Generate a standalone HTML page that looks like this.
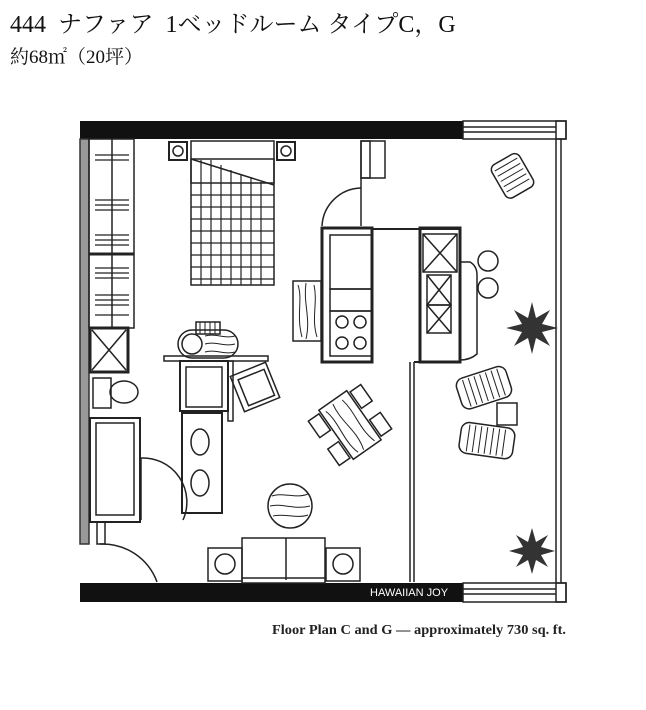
<!DOCTYPE html>
<html><head><meta charset="utf-8"><style>
html,body{margin:0;padding:0;background:#fff;width:646px;height:710px;overflow:hidden}
.t1{position:absolute;left:10px;top:4px;font:24px "Liberation Serif","Noto Serif CJK SC",serif;color:#111;white-space:nowrap}
.t2{position:absolute;left:10px;top:42px;font:19px "Liberation Serif","Noto Serif CJK SC",serif;color:#111;white-space:nowrap}
svg{position:absolute;left:0;top:0}
</style></head><body>
<div class="t1">444&nbsp; ナファア&nbsp; 1ベッドルーム タイプC，G</div>
<div class="t2">約68㎡（20坪）</div>
<svg width="646" height="710" viewBox="0 0 646 710" fill="none" stroke="#222" stroke-width="1.5">
<!-- walls -->
<rect x="80" y="121" width="383" height="18" fill="#111" stroke="none"/>
<rect x="80" y="583" width="383" height="19" fill="#111" stroke="none"/>
<rect x="463" y="121" width="103" height="18" fill="#fff"/>
<line x1="463" y1="127" x2="556" y2="127"/><line x1="463" y1="132" x2="556" y2="132"/>
<rect x="556" y="121" width="10" height="18"/>
<rect x="463" y="583" width="103" height="19" fill="#fff"/>
<line x1="463" y1="589" x2="556" y2="589"/><line x1="463" y1="594" x2="556" y2="594"/>
<rect x="556" y="583" width="10" height="19"/>
<line x1="556" y1="139" x2="556" y2="583"/><line x1="561" y1="139" x2="561" y2="583"/>
<rect x="80" y="139" width="9" height="405" fill="#999" stroke="#333"/>
<text x="370" y="596" font-family="Liberation Sans" font-size="11" fill="#fff" stroke="none">HAWAIIAN JOY</text>
<!-- closet -->
<rect x="89" y="139" width="45" height="189"/>
<line x1="112" y1="139" x2="112" y2="328"/>
<line x1="89" y1="254" x2="134" y2="254" stroke-width="3"/>
<g stroke-width="1.2">
<path d="M95 155h34M95 160h34M95 200h34M95 205h34M95 210h34M95 235h34M95 240h34M95 245h34M95 268h34M95 273h34M95 278h34M95 295h34M95 300h34M95 305h34M95 315h34"/>
</g>
<rect x="90" y="328" width="38" height="44" stroke-width="3"/>
<path d="M92 330l34 40M126 330l-34 40"/>
<rect x="93" y="378" width="18" height="30"/><ellipse cx="124" cy="392" rx="14" ry="11"/>
<rect x="90" y="418" width="50" height="104" stroke-width="2"/><rect x="96" y="423" width="38" height="92"/>
<path d="M141 458 A44 44 0 0 1 183 520" /><line x1="141" y1="458" x2="141" y2="520"/>
<rect x="97" y="522" width="8" height="22"/>
<path d="M100 544 A58 58 0 0 1 157 582"/>
<!-- bed -->
<rect x="169" y="142" width="18" height="18" stroke-width="2"/><circle cx="178" cy="151" r="5"/>
<rect x="277" y="142" width="18" height="18" stroke-width="2"/><circle cx="286" cy="151" r="5"/>
<rect x="191" y="141" width="83" height="42"/>
<rect x="191" y="159" width="83" height="126"/>
<g stroke-width="1.2">
<path d="M201 160v125M211 160v125M221 165v120M231 170v115M241 175v110M251 178v107M261 182v103M191 195h83M191 207h83M191 219h83M191 231h83M191 243h83M191 255h83M191 267h83M191 279h83"/>
</g>
<path d="M191 159 L274 185" stroke-width="1.5"/>
<!-- closet door -->
<rect x="361" y="141" width="24" height="37"/><rect x="361" y="141" width="9" height="37"/>
<path d="M361 188 A40 40 0 0 0 322 226"/><line x1="361" y1="178" x2="361" y2="226"/>
<!-- kitchen -->
<rect x="322" y="228" width="50" height="134" stroke-width="3"/>
<line x1="372" y1="229" x2="460" y2="229" stroke-width="2"/>
<rect x="330" y="235" width="42" height="54"/><rect x="330" y="289" width="42" height="22"/>
<rect x="330" y="311" width="42" height="45"/>
<circle cx="342" cy="322" r="6"/><circle cx="360" cy="322" r="6"/><circle cx="342" cy="343" r="6"/><circle cx="360" cy="343" r="6"/>
<rect x="420" y="228" width="40" height="134" stroke-width="3"/>
<rect x="423" y="234" width="34" height="38"/><path d="M423 234l34 38M457 234l-34 38"/>
<rect x="427" y="275" width="24" height="30"/><path d="M427 275l24 30M451 275l-24 30"/>
<rect x="427" y="305" width="24" height="28"/><path d="M427 305l24 28M451 305l-24 28"/>
<path d="M460 262 L470 262 Q477 266 477 275 L477 354 Q470 360 460 360"/>
<circle cx="488" cy="261" r="10"/><circle cx="488" cy="288" r="10"/>
<rect x="293" y="281" width="28" height="60"/>
<g stroke-width="1"><path d="M298 285c5 15 -2 30 4 52M306 283c-3 20 5 35 0 56M314 285c4 18 -3 33 3 52"/></g>
<!-- partition -->
<line x1="410" y1="362" x2="410" y2="582"/><line x1="414" y1="362" x2="414" y2="582"/>
<line x1="414" y1="362" x2="460" y2="362" stroke-width="2"/>
<!-- armchair / desk -->
<rect x="196" y="322" width="24" height="12" fill="#fff"/>
<g stroke-width="1"><path d="M200 322v12M205 322v12M210 322v12M215 322v12"/></g>
<rect x="178" y="330" width="60" height="28" rx="14"/>
<circle cx="192" cy="344" r="10"/>
<g stroke-width="1"><path d="M205 336c10 -3 20 3 30 0M205 344c10 -3 20 3 30 0M205 352c10 -3 20 3 30 0"/></g>
<rect x="164" y="356" width="104" height="5"/>
<rect x="180" y="361" width="48" height="50" stroke-width="2"/><rect x="186" y="367" width="36" height="40"/>
<rect x="228" y="361" width="5" height="60"/>
<rect x="182" y="413" width="40" height="100" stroke-width="2"/>
<ellipse cx="200" cy="442" rx="9" ry="13"/><ellipse cx="200" cy="483" rx="9" ry="13"/>
<g transform="rotate(-22 255 387)"><rect x="236" y="368" width="38" height="38"/><rect x="242" y="374" width="28" height="28"/></g>
<!-- dining -->
<g transform="rotate(-35 350 425)">
<rect x="333" y="395" width="34" height="60" stroke-width="1.5"/>
<g stroke-width="1"><path d="M338 400c5 15 -3 35 3 52M348 398c-4 20 5 35 -1 55M358 400c4 18 -3 33 3 52"/></g>
<rect x="318" y="398" width="13" height="20"/><rect x="318" y="432" width="13" height="20"/>
<rect x="369" y="398" width="13" height="20"/><rect x="369" y="432" width="13" height="20"/>
</g>
<!-- rug -->
<circle cx="290" cy="506" r="22"/>
<g stroke-width="1"><path d="M272 496c10 -4 25 3 36 -2M270 506c12 -3 25 4 40 0M273 516c10 -3 24 3 35 -1"/></g>
<!-- sofa -->
<rect x="242" y="538" width="83" height="45"/><line x1="286" y1="538" x2="286" y2="580"/><line x1="242" y1="578" x2="325" y2="578"/>
<rect x="208" y="548" width="34" height="33"/><circle cx="225" cy="564" r="10"/>
<rect x="326" y="548" width="34" height="33"/><circle cx="343" cy="564" r="10"/>
<!-- lanai -->
<g transform="rotate(-30 512 175)"><rect x="496" y="157" width="32" height="38" rx="6"/>
<g stroke-width="1"><path d="M499 163h26M499 169h26M499 175h26M499 181h26M499 187h26"/></g></g>
<g transform="rotate(-18 483 388)"><rect x="458" y="372" width="52" height="32" rx="8"/>
<g stroke-width="1"><path d="M466 374v28M472 374v28M478 374v28M484 374v28M490 374v28M496 374v28M502 374v28"/></g></g>
<rect x="497" y="403" width="20" height="22"/>
<g transform="rotate(8 486 440)"><rect x="460" y="425" width="54" height="31" rx="8"/>
<g stroke-width="1"><path d="M468 427v27M474 427v27M480 427v27M486 427v27M492 427v27M498 427v27M504 427v27"/></g></g>
<g fill="#333" stroke="none">
<path d="M532 302 l4 16 14 -8 -8 14 16 4 -16 4 8 14 -14 -8 -4 16 -4 -16 -14 8 8 -14 -16 -4 16 -4 -8 -14 14 8z"/>
<path d="M532 528 l4 14 12 -7 -7 12 14 4 -14 4 7 12 -12 -7 -4 14 -4 -14 -12 7 7 -12 -14 -4 14 -4 -7 -12 12 7z"/>
</g>
<text x="272" y="634" font-family="Liberation Serif" font-weight="bold" font-size="14" textLength="294" lengthAdjust="spacingAndGlyphs" fill="#222" stroke="none">Floor Plan C and G — approximately 730 sq. ft.</text>
</svg>
</body></html>
